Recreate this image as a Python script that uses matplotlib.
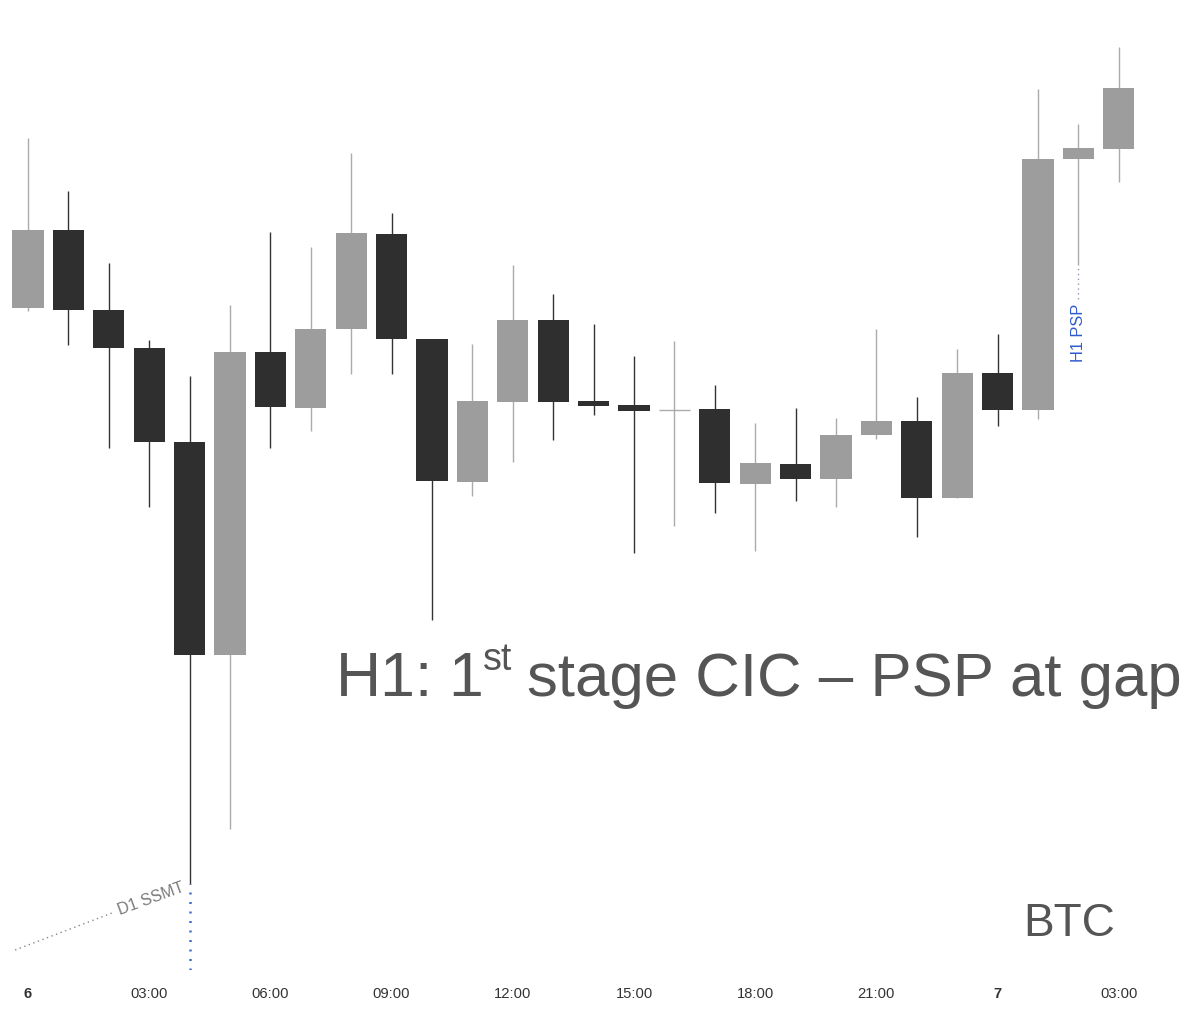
import matplotlib
matplotlib.use("Agg")
import matplotlib.pyplot as plt

plt.rcParams['font.family'] = ['Liberation Sans', 'DejaVu Sans']

# hourly BTC candles, 6th 00:00 -> 7th 03:00 (price units)
hours = list(range(28))
opens = [692, 770, 690, 652, 558, 345, 648, 592, 671, 766, 661, 518, 598, 680,
         599, 595, 590, 591, 516, 536, 521, 565, 579, 502, 627, 590, 841, 851]
highs = [862, 809, 737, 660, 624, 695, 768, 753, 847, 787, 661, 656, 735, 706,
         676, 644, 659, 615, 577, 592, 582, 671, 603, 651, 666, 911, 876, 953]
lows = [689, 655, 552, 493, 116, 171, 552, 569, 626, 626, 380, 504, 538, 560,
        585, 447, 474, 487, 449, 499, 493, 561, 463, 502, 574, 581, 735, 818]
closes = [770, 690, 652, 558, 345, 648, 593, 671, 767, 661, 519, 599, 680, 598,
          594, 589, 590, 517, 537, 521, 565, 579, 502, 627, 590, 841, 852, 912]

tick_pos = [0, 3, 6, 9, 12, 15, 18, 21, 24, 27]
tick_labels = ['6', '03:00', '06:00', '09:00', '12:00', '15:00', '18:00',
               '21:00', '7', '03:00']

up_body, up_wick = '#9d9d9d', '#ababab'
dn_body, dn_wick = '#2f2f2f', '#333333'

fig = plt.figure(figsize=(11.99, 10.17), dpi=100)
ax = fig.add_axes([0, 47 / 1017, 1, 970 / 1017])

for h, o, hi, lo, c in zip(hours, opens, highs, lows, closes):
    up = c >= o
    body = up_body if up else dn_body
    wick = up_wick if up else dn_wick
    ax.vlines(h, lo, hi, color=wick, linewidth=1.0, zorder=1)
    if c == o:
        ax.hlines(o, h - 0.385, h + 0.385, color=wick, linewidth=1.0, zorder=2)
    else:
        ax.bar(h, abs(c - o), bottom=min(o, c), width=0.77, color=body,
               linewidth=0, zorder=2)

# D1 SSMT marker under the 04:00 low
ax.vlines(4, 30, lows[4], color='#3b6fd6', linewidth=1.8,
          linestyles=(0, (0.8, 3.0)), zorder=3)
ax.plot([-0.32, 2.08], [50, 87], color='#8a8a8a', linewidth=1.0,
        linestyle=(0, (1, 2.5)))
ax.text(3.05, 101, 'D1 SSMT', rotation=20, rotation_mode='anchor',
        ha='center', va='center', fontsize=11.5, color='#7a7a7a')

# H1 PSP marker under the 02:00 candle
ax.vlines(26, 701, lows[26], color='#8e9ab8', linewidth=1.0,
          linestyles=(0, (1, 2.5)))
ax.text(26, 667, 'H1 PSP', rotation=90, ha='center', va='center',
        fontsize=11.8, color='#2f5bd0')

ax.set_xlim(-0.693, 28.985)
ax.set_ylim(30, 1000)
ax.set_xticks(tick_pos)
ax.set_xticklabels(tick_labels)
for lab in ax.get_xticklabels():
    lab.set_fontsize(10.6)
    lab.set_color('#333333')
    if lab.get_text() in ('6', '7'):
        lab.set_fontweight('bold')
ax.tick_params(axis='x', length=0, pad=12)
ax.set_yticks([])
for s in ax.spines.values():
    s.set_visible(False)

# headline with superscript
W, H = 1199, 1017
grey = '#555555'
fig.text(336 / W, 1 - 696 / H, 'H1:', fontsize=45, color=grey,
         ha='left', va='baseline')
fig.text(448 / W, 1 - 696 / H, '1', fontsize=45, color=grey,
         ha='left', va='baseline')
fig.text(483 / W, 1 - 670 / H, 'st', fontsize=27, color=grey,
         ha='left', va='baseline')
fig.text(527 / W, 1 - 696 / H, 'stage CIC \u2013 PSP at gap', fontsize=44.5,
         color=grey, ha='left', va='baseline')
fig.text(1023 / W, 1 - 936 / H, 'BTC', fontsize=33, color=grey,
         ha='left', va='baseline')

fig.savefig('out.png', dpi=100)
